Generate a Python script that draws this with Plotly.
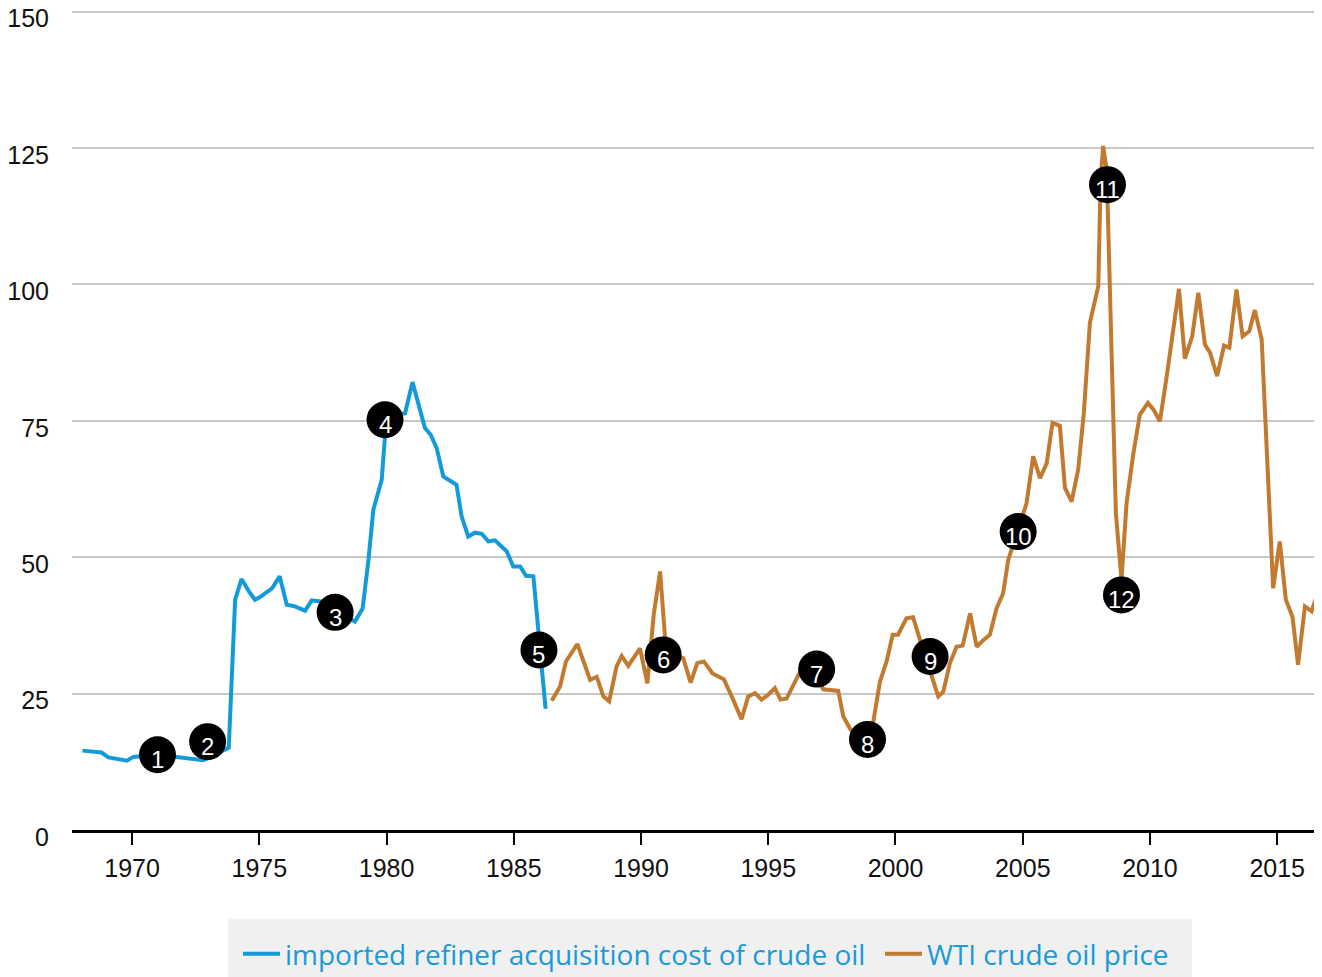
import plotly.graph_objects as go

# Imported refiner acquisition cost of crude oil (real $/bbl)
blue_years = [1968.05, 1968.8, 1969.07, 1969.8, 1970.05, 1970.5, 1971.0, 1971.75, 1972.8, 1973.3,
              1973.8, 1974.05, 1974.3, 1974.6, 1974.83, 1975.03, 1975.5, 1975.8, 1976.08, 1976.4,
              1976.8, 1977.06, 1977.4, 1978.1, 1978.76, 1979.06, 1979.29, 1979.48, 1979.81, 1979.94,
              1980.3, 1980.73, 1981.02, 1981.51, 1981.73, 1981.97, 1982.23, 1982.75, 1982.95, 1983.21,
              1983.48, 1983.74, 1984.0, 1984.26, 1984.72, 1984.98, 1985.25, 1985.48, 1985.77, 1986.25]
blue_values = [14.55, 14.2, 13.3, 12.7, 13.4, 13.6, 13.6, 13.4, 12.8, 14.0,
               15.1, 42.2, 46.0, 43.7, 42.2, 42.7, 44.3, 46.5, 41.3, 41.0,
               40.2, 42.1, 41.9, 40.0, 38.2, 40.6, 49.5, 58.7, 64.2, 72.2,
               76.0, 76.4, 82.1, 73.7, 72.5, 70.0, 64.8, 63.3, 57.5, 53.8,
               54.5, 54.3, 52.9, 53.1, 51.1, 48.3, 48.3, 46.6, 46.5, 22.2]

# WTI crude oil price (real $/bbl)
wti_years = [1986.49, 1986.82, 1987.05, 1987.5, 1988.0, 1988.26, 1988.52, 1988.75, 1989.04, 1989.24,
             1989.5, 1989.96, 1990.25, 1990.5, 1990.75, 1990.94, 1991.3, 1991.66, 1991.95, 1992.21,
             1992.47, 1992.81, 1993.1, 1993.26, 1993.62, 1993.95, 1994.21, 1994.48, 1994.74, 1995.0,
             1995.26, 1995.48, 1995.72, 1995.95, 1996.22, 1996.6, 1997.16, 1997.75, 1997.95, 1998.21,
             1998.5, 1998.9, 1999.13, 1999.39, 1999.65, 1999.89, 2000.1, 2000.43, 2000.69, 2000.96,
             2001.3, 2001.68, 2001.88, 2002.14, 2002.4, 2002.64, 2002.93, 2003.19, 2003.45, 2003.71,
             2003.97, 2004.23, 2004.43, 2004.8, 2005.15, 2005.41, 2005.68, 2005.94, 2006.17, 2006.46,
             2006.66, 2006.92, 2007.18, 2007.4, 2007.64, 2007.97, 2008.06, 2008.16, 2008.3, 2008.66,
             2008.88, 2009.08, 2009.34, 2009.6, 2009.92, 2010.15, 2010.39, 2010.65, 2011.14, 2011.37,
             2011.66, 2011.9, 2012.16, 2012.36, 2012.64, 2012.91, 2013.12, 2013.4, 2013.64, 2013.9,
             2014.12, 2014.39, 2014.58, 2014.84, 2015.1, 2015.34, 2015.6, 2015.82, 2016.09, 2016.35,
             2016.65]
wti_values = [23.7, 26.3, 30.9, 34.1, 27.5, 28.1, 24.5, 23.6, 30.0, 31.9,
              30.1, 33.3, 26.9, 39.5, 47.4, 35.5, 32.0, 31.5, 27.0, 30.6,
              30.9, 28.7, 28.0, 27.6, 23.9, 20.3, 24.5, 25.1, 23.9, 24.8,
              26.0, 23.9, 24.1, 26.3, 28.7, 31.0, 25.8, 25.5, 20.8, 18.6,
              17.0, 15.5, 19.9, 27.2, 30.9, 35.8, 35.8, 38.8, 39.0, 34.9,
              30.0, 24.5, 25.4, 30.6, 33.6, 33.8, 39.7, 33.6, 34.8, 35.8,
              40.6, 43.4, 49.5, 55.0, 59.9, 68.5, 64.5, 67.2, 74.6, 74.1,
              62.7, 60.2, 66.1, 76.4, 93.0, 99.7, 119.3, 125.4, 121.0, 58.1,
              45.9, 59.9, 68.8, 76.1, 78.3, 77.0, 74.9, 82.9, 99.2, 86.4,
              90.5, 98.5, 89.0, 87.5, 83.2, 88.8, 88.4, 99.1, 90.5, 91.4,
              95.3, 89.9, 70.3, 44.3, 52.9, 42.2, 39.1, 30.3, 41.0, 40.1,
              44.2]

# Numbered event markers
event_labels = ["1", "2", "3", "4", "5", "6", "7", "8", "9", "10", "11", "12"]
event_years = [1971.0, 1972.97, 1977.98, 1979.94, 1985.99, 1990.87, 1996.9, 1998.9, 2001.36, 2004.82, 2008.33, 2008.88]
event_values = [13.8, 16.2, 39.9, 75.2, 33.0, 32.1, 29.5, 16.6, 31.8, 54.7, 118.3, 43.1]

x_tick_vals = [1970, 1975, 1980, 1985, 1990, 1995, 2000, 2005, 2010, 2015]
y_tick_vals = [0, 25, 50, 75, 100, 125, 150]

BLUE = "#139bd9"
ORANGE = "#c27a30"
FONT = "Liberation Sans, Arial, sans-serif"

# the page body adds an 8px offset, so the figure is sized to fit the window
FIG_W, FIG_H = 1314, 969

fig = go.Figure()
fig.add_trace(go.Scatter(x=blue_years, y=blue_values, mode="lines",
                         name="imported refiner acquisition cost of crude oil",
                         legendwidth=590,
                         line=dict(color=BLUE, width=4)))
fig.add_trace(go.Scatter(x=wti_years, y=wti_values, mode="lines",
                         name="WTI crude oil price",
                         legendwidth=250,
                         line=dict(color=ORANGE, width=4)))
fig.add_trace(go.Scatter(x=event_years, y=event_values, mode="markers",
                         marker=dict(color="black", size=37, line=dict(width=0)),
                         showlegend=False, hoverinfo="skip"))

for lab, xv, yv in zip(event_labels, event_years, event_values):
    fig.add_annotation(x=xv, y=yv, text=lab, showarrow=False, yshift=-5,
                       font=dict(color="white", size=24, family=FONT))

fig.update_layout(
    width=FIG_W, height=FIG_H,
    margin=dict(l=64, r=0, t=1, b=147, autoexpand=False),
    paper_bgcolor="white", plot_bgcolor="white",
    font=dict(family=FONT, size=24, color="#111111"),
    showlegend=True,
    legend=dict(orientation="h", xref="container", yref="container",
                x=220 / FIG_W, xanchor="left", y=1 - 911 / FIG_H, yanchor="top",
                bgcolor="#f0f0f0", bordercolor="#f0f0f0", borderwidth=10,
                font=dict(color="#1a9ad6", size=28, family="Open Sans, sans-serif"),
                entrywidthmode="pixels", itemwidth=37),
)
fig.update_xaxes(range=[1967.64, 2016.76], tickvals=x_tick_vals, showgrid=False,
                 showline=True, linecolor="black", linewidth=3, zeroline=False,
                 ticks="outside", ticklen=12, tickwidth=2, tickcolor="black",
                 ticklabelstandoff=2, automargin=False, ticklabeloverflow="allow",
                 tickfont=dict(size=25, color="#111111"))
fig.update_yaxes(range=[0, 150.5], tickvals=y_tick_vals, showgrid=True, gridcolor="#c8c8c8",
                 gridwidth=2, zeroline=False, showline=False, ticks="",
                 ticklabelstandoff=22, ticklabelshift=7, automargin=False,
                 ticklabeloverflow="allow",
                 tickfont=dict(size=25, color="#111111"))

fig.write_html("out.html")
